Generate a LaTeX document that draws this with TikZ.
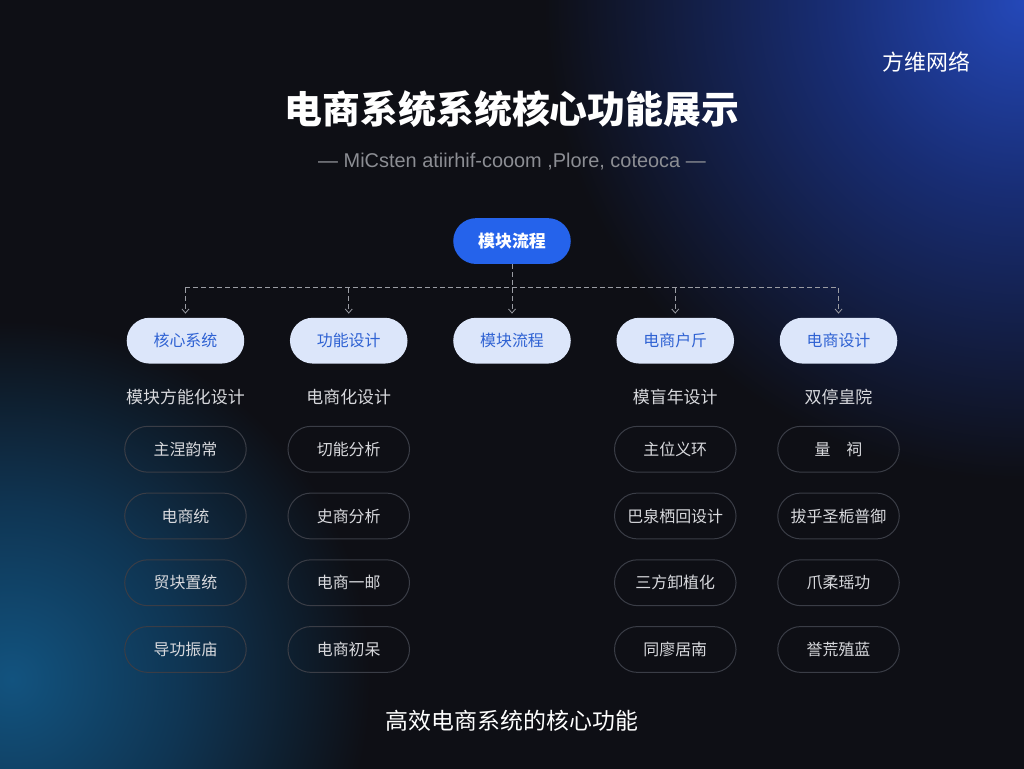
\documentclass[tikz,border=0pt]{standalone}
\usepackage{fontspec}
\setmainfont{Noto Sans CJK SC}
\newfontfamily\latinfont{Liberation Sans}
\usetikzlibrary{arrows.meta,positioning}
\definecolor{bgdark}{HTML}{0E0F15}
\definecolor{glowblue}{HTML}{2448B8}
\definecolor{glowbluemid}{HTML}{182D74}
\definecolor{glowcyan}{HTML}{12537F}
\definecolor{glowcyanmid}{HTML}{0F3553}
\definecolor{rootblue}{HTML}{2563EB}
\definecolor{modfill}{HTML}{DCE6FA}
\definecolor{modtext}{HTML}{2F62D3}
\definecolor{itemline}{HTML}{3A3D46}
\definecolor{itemtext}{HTML}{D8D9DD}
\definecolor{linkgray}{HTML}{9A9CA3}
\definecolor{subgray}{HTML}{8C8E94}
\pgfdeclareradialshading{blueglow}{\pgfpoint{0bp}{0bp}}{%
  color(0bp)=(glowblue); color(10bp)=(glowbluemid);
  color(25bp)=(bgdark); color(50bp)=(bgdark)}
\pgfdeclareradialshading{cyanglow}{\pgfpoint{0bp}{0bp}}{%
  color(0bp)=(glowcyan); color(12bp)=(glowcyanmid);
  color(25bp)=(bgdark); color(50bp)=(bgdark)}
\tikzset{
  root/.style={
    rectangle, rounded corners=23pt, fill=rootblue, text=white,
    minimum width=118pt, minimum height=46pt,
    font=\fontsize{17}{20}\selectfont\bfseries
  },
  module/.style={
    rectangle, rounded corners=23pt, fill=modfill, text=modtext,
    minimum width=118pt, minimum height=46pt,
    font=\fontsize{16}{19}\selectfont
  },
  item/.style={
    rectangle, rounded corners=23pt, draw=itemline, line width=1pt,
    text=itemtext,
    minimum width=122pt, minimum height=46pt,
    font=\fontsize{16}{19}\selectfont
  },
  collabel/.style={text=itemtext, font=\fontsize{17}{20}\selectfont},
  link/.style={draw=linkgray, line width=0.8pt, dash pattern=on 5pt off 3pt},
  linkarrow/.style={link, -{Straight Barb[length=4pt,width=7pt]}}
}

\begin{document}
\begin{tikzpicture}[x=1pt, y=-1pt, node distance=20pt]

  % Background and glows
  \fill[bgdark] (-2,-2) rectangle (1026,770);
  \begin{scope}
    \clip (-2,-2) rectangle (1026,770);
    \shade[shading=blueglow] (1024,0) circle (480pt);
    \shade[shading=cyanglow] (10,680) circle (360pt);
  \end{scope}
  \useasboundingbox (0,0) rectangle (1024,768);

  % Headings
  \node[text=white, font=\fontsize{22}{24}\selectfont] (brand) at (928,60) {方维网络};
  \node[text=white, font=\fontsize{38}{42}\selectfont\bfseries] (title) at (512,108) {电商系统系统核心功能展示};
  \node[text=subgray, font=\latinfont\fontsize{20}{23}\selectfont] (subtitle) at (512,160) {— MiCsten atiirhif-cooom ,Plore, coteoca —};

  % Root and modules
  \node[root] (root) at (512,240) {模块流程};
  \node[module] (m3) at (512,340) {模块流程};
  \node[module, left=45.5pt of m3] (m2) {功能设计};
  \node[module, left=45.5pt of m2] (m1) {核心系统};
  \node[module, right=45.5pt of m3] (m4) {电商户斤};
  \node[module, right=45.5pt of m4] (m5) {电商设计};

  % Connectors
  \coordinate (bus) at (512,287);
  \draw[link] (root.south) -- (bus);
  \draw[link] (m1 |- bus) -- (m5 |- bus);
  \draw[linkarrow] (m1 |- bus) -- ([yshift=4pt]m1.north);
  \draw[linkarrow] (m2 |- bus) -- ([yshift=4pt]m2.north);
  \draw[linkarrow] (m3 |- bus) -- ([yshift=4pt]m3.north);
  \draw[linkarrow] (m4 |- bus) -- ([yshift=4pt]m4.north);
  \draw[linkarrow] (m5 |- bus) -- ([yshift=4pt]m5.north);

  % Column 1
  \node[collabel] (l1) at (m1 |- 0,397) {模块方能化设计};
  \node[item] (c11) at (m1 |- 0,449) {主涅韵常};
  \node[item, below=of c11] (c12) {电商统};
  \node[item, below=of c12] (c13) {贸块置统};
  \node[item, below=of c13] (c14) {导功振庙};

  % Column 2
  \node[collabel] (l2) at (m2 |- 0,397) {电商化设计};
  \node[item] (c21) at (m2 |- 0,449) {切能分析};
  \node[item, below=of c21] (c22) {史商分析};
  \node[item, below=of c22] (c23) {电商一邮};
  \node[item, below=of c23] (c24) {电商初呆};

  % Column 4
  \node[collabel] (l4) at (m4 |- 0,397) {模盲年设计};
  \node[item] (c41) at (m4 |- 0,449) {主位义环};
  \node[item, below=of c41] (c42) {巴泉栖回设计};
  \node[item, below=of c42] (c43) {三方卸植化};
  \node[item, below=of c43] (c44) {同廖居南};

  % Column 5
  \node[collabel] (l5) at (m5 |- 0,397) {双停皇院};
  \node[item] (c51) at (m5 |- 0,449) {量\quad 祠};
  \node[item, below=of c51] (c52) {拔乎圣栀普御};
  \node[item, below=of c52] (c53) {爪柔瑶功};
  \node[item, below=of c53] (c54) {誉荒殖蓝};

  % Footer
  \node[text=white, font=\fontsize{23}{26}\selectfont] (footer) at (512,722) {高效电商系统的核心功能};

\end{tikzpicture}
\end{document}
